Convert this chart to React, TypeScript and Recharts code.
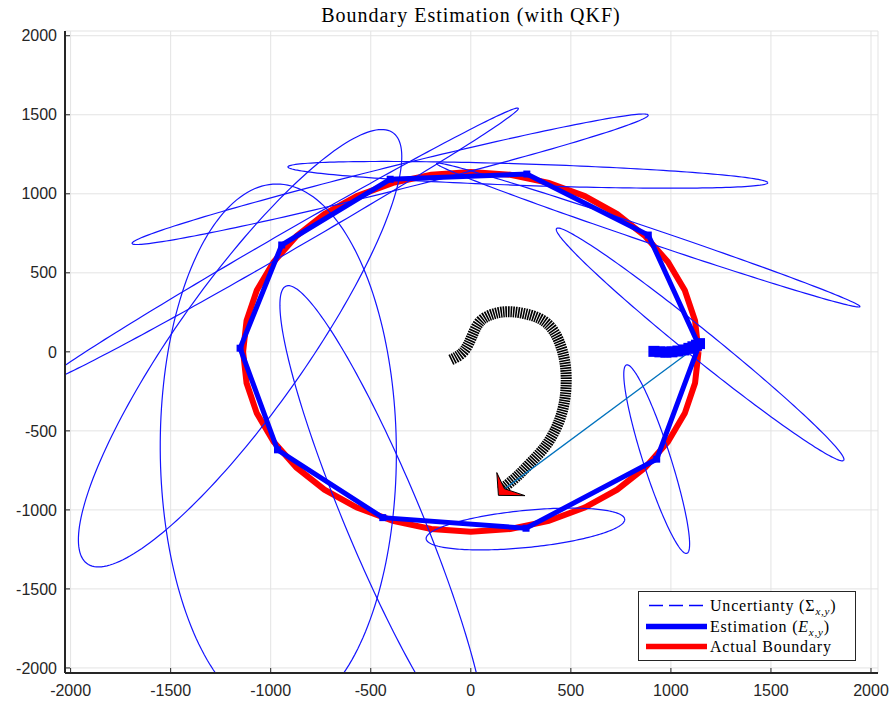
import React from "react";
import { ComposedChart, Line, XAxis, YAxis, CartesianGrid } from "recharts";

const axisTicks = [-2000, -1500, -1000, -500, 0, 500, 1000, 1500, 2000];

// estimated boundary vertices, clockwise from the east side
const estX = [1140, 929, 276, -440, -966, -1153, -945, -403, 280, 887, 1140];
const estY = [40, -679, -1116, -1049, -620, 23, 676, 1092, 1125, 739, 40];

// first estimates, bunched up where the run starts
const startX = [915, 945, 975, 1005, 1035, 1065, 1090, 1110, 1128, 1143];
const startY = [3, 0, -2, 0, 5, 12, 22, 32, 42, 52];

// uncertainty ellipse per estimate: centre, semi-axes, tilt (deg)
const ellCx = [1146, 929, 273, -440, -962, -1153, -945, -403, 285, 887];
const ellCy = [47, -679, -1121, -1049, -620, 23, 676, 1092, 1120, 739];
const ellA = [1026, 615, 500, 1543, 1682, 1565, 1465, 1352, 1200, 1151];
const ellB = [80, 70, 117, 195, 590, 345, 58, 75, 68, 45];
const ellTilt = [-45.7, -75.9, 7.3, 108.1, 90.3, 61.4, 36.2, 17.5, -2.4, -23.2];

// vehicle track drawn as a quiver trail
const trackX = [-100, -37, 5, 46, 113, 196, 296, 380, 438, 471, 476, 463, 430, 371, 296, 230, 171, 158];
const trackY = [-51, 1, 96, 191, 240, 254, 233, 181, 75, -72, -220, -347, -473, -600, -705, -789, -853, -872];

// final heading marker and bearing to the current estimate
const headX = [130, 138, 271, 168];
const headY = [-764, -908, -910, -866];
const bearingX = [163, 1146];
const bearingY = [-873, 50];

// true boundary: regular polygon around the origin
const boundaryRadius = 1138;
const boundarySides = 36;

const zip = (xs: number[], ys: number[]) => xs.map((x, i) => ({ x, y: ys[i] }));

const boundary = Array.from({ length: boundarySides + 1 }, (_, k) => {
  const t = (2 * Math.PI * k) / boundarySides;
  return { x: boundaryRadius * Math.cos(t), y: boundaryRadius * Math.sin(t) };
});

const ellipse = (i: number, n = 200) => {
  const th = (ellTilt[i] * Math.PI) / 180;
  const c = Math.cos(th);
  const s = Math.sin(th);
  return Array.from({ length: n + 1 }, (_, k) => {
    const t = (2 * Math.PI * k) / n;
    const u = ellA[i] * Math.cos(t);
    const v = ellB[i] * Math.sin(t);
    return { x: ellCx[i] + u * c - v * s, y: ellCy[i] + u * s + v * c };
  });
};

const BLUE = "#0000ff";
const AXIS = "#262626";

const vertexDot = (size: number) => (props: any) => (
  <rect
    key={`d${size}-${props.index}`}
    x={props.cx - size / 2}
    y={props.cy - size / 2}
    width={size}
    height={size}
    fill={BLUE}
  />
);

const headShape = (props: any) => {
  const { index, points } = props;
  if (index !== 0 || !points) return <g key={`h${index}`} />;
  return (
    <polygon
      key="head"
      points={points.map((p: any) => `${p.x},${p.y}`).join(" ")}
      fill="#ff0000"
      stroke="#000"
      strokeWidth={1}
    />
  );
};

const serif = "'Liberation Serif', 'Times New Roman', serif";
const sans = "'Liberation Sans', Arial, sans-serif";

const LegendBox = () => (
  <g fontFamily={serif} fontSize={16} letterSpacing={0.8} fill="#000">
    <rect x={638.5} y={591.5} width={217} height={69} fill="#fff" stroke={AXIS} strokeWidth={1} />
    <line x1={649} x2={704} y1={605.5} y2={605.5} stroke={BLUE} strokeWidth={1.5} strokeDasharray="14 6" />
    <text x={710} y={611}>
      Uncertianty (Σ<tspan fontSize={11} fontStyle="italic" dy={4}>x,y</tspan>
      <tspan dy={-4}>)</tspan>
    </text>
    <line x1={646} x2={707} y1={626.5} y2={626.5} stroke={BLUE} strokeWidth={5.5} />
    <text x={710} y={632}>
      Estimation (<tspan fontStyle="italic">E</tspan>
      <tspan fontSize={11} fontStyle="italic" dy={4}>x,y</tspan>
      <tspan dy={-4}>)</tspan>
    </text>
    <line x1={646} x2={707} y1={646.5} y2={646.5} stroke="#ff0000" strokeWidth={5.5} />
    <text x={710} y={652}>Actual Boundary</text>
  </g>
);

export default function App() {
  const common = {
    dataKey: "y",
    isAnimationActive: false,
    activeDot: false,
    legendType: "none" as const,
  };
  return (
    <div style={{ position: "absolute", left: 0, top: 0, width: 892, height: 704, background: "#fff" }}>
      <ComposedChart width={892} height={704} margin={{ top: 31, right: 14, bottom: 0, left: 0 }}>
        <CartesianGrid stroke="#e3e3e3" strokeWidth={1} />
        <XAxis
          type="number"
          dataKey="x"
          domain={[-2028, 2035]}
          ticks={axisTicks}
          interval={0}
          allowDataOverflow
          height={31}
          tickSize={-5}
          tickMargin={17}
          axisLine={{ stroke: AXIS, strokeWidth: 2 }}
          tickLine={{ stroke: AXIS }}
          tick={{ fill: AXIS, fontSize: 16, fontFamily: sans }}
        />
        <YAxis
          type="number"
          dataKey="y"
          domain={[-2032, 2030]}
          ticks={axisTicks}
          interval={0}
          allowDataOverflow
          width={65}
          tickSize={-5}
          tickMargin={13}
          axisLine={{ stroke: AXIS, strokeWidth: 2 }}
          tickLine={{ stroke: AXIS }}
          tick={{ fill: AXIS, fontSize: 16, fontFamily: sans }}
        />
        <Line {...common} data={boundary} type="linear" stroke="#ff0000" strokeWidth={6} dot={false} />
        {ellA.map((_, i) => (
          <Line key={`ell${i}`} {...common} data={ellipse(i)} type="linear" stroke="#1414ff" strokeWidth={1.2} dot={false} />
        ))}
        <Line {...common} data={zip(estX, estY)} type="linear" stroke={BLUE} strokeWidth={5} dot={vertexDot(7)} />
        <Line {...common} data={zip(startX, startY)} type="linear" stroke={BLUE} strokeWidth={10} dot={vertexDot(11)} />
        <Line
          {...common}
          data={zip(trackX, trackY)}
          type="natural"
          stroke="#000"
          strokeWidth={11}
          strokeDasharray="1.6 0.9"
          dot={false}
        />
        <Line {...common} data={zip(bearingX, bearingY)} type="linear" stroke="#0072bd" strokeWidth={1.3} dot={false} />
        <Line {...common} data={zip(headX, headY)} type="linear" stroke="none" dot={headShape} />
      </ComposedChart>
      <svg width={892} height={704} style={{ position: "absolute", left: 0, top: 0, pointerEvents: "none" }}>
        <text x={471} y={22} textAnchor="middle" fontFamily={serif} fontSize={20} letterSpacing={1} fill="#000">
          Boundary Estimation (with QKF)
        </text>
        <LegendBox />
      </svg>
    </div>
  );
}
